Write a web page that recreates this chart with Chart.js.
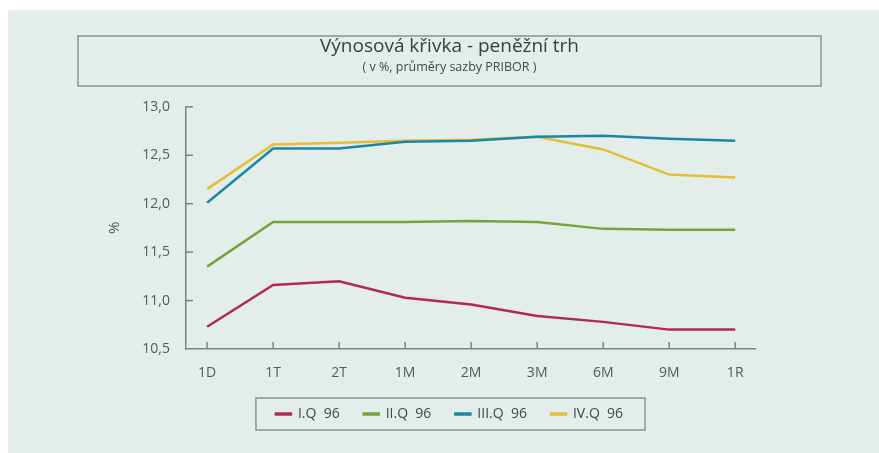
<!DOCTYPE html>
<html>
<head>
<meta charset="utf-8">
<script src="https://cdn.jsdelivr.net/npm/chart.js@4"></script>
<style>
  html, body { margin: 0; padding: 0; background: #fff; }
  #wrap { position: absolute; left: 8px; top: 10px; width: 871px; height: 443px; background: #e3edea; }
</style>
</head>
<body>
<div id="wrap"><canvas id="yield"></canvas></div>
<script>
const categories = ["1D", "1T", "2T", "1M", "2M", "3M", "6M", "9M", "1R"];
const q1 = [10.73, 11.16, 11.20, 11.03, 10.96, 10.84, 10.78, 10.70, 10.70];
const q2 = [11.35, 11.81, 11.81, 11.81, 11.82, 11.81, 11.74, 11.73, 11.73];
const q3 = [12.01, 12.57, 12.57, 12.64, 12.65, 12.69, 12.70, 12.67, 12.65];
const q4 = [12.15, 12.61, 12.63, 12.65, 12.66, 12.69, 12.56, 12.30, 12.27];

const axisColor = "#7d8382";
const textColor = "#555a5a";
const font = "'Open Sans', 'DejaVu Sans', sans-serif";

function pts(arr) {
  return arr.map((y, i) => ({ x: i, y: y }));
}

function ds(label, arr, color) {
  return {
    label: label,
    data: pts(arr),
    borderColor: color,
    backgroundColor: color,
    borderWidth: 2.5,
    pointRadius: 0,
    tension: 0,
    yAxisID: "y",
  };
}

// frames round the title and the legend, inner tick marks
const decor = {
  id: "decor",
  afterDraw(chart) {
    const c = chart.ctx;
    c.save();
    c.strokeStyle = "#8b9190";
    c.lineWidth = 1.5;
    const tb = chart.titleBlock;
    c.strokeRect(70, tb.top + 26, chart.width - 128, 50);

    const hb = chart.legend.legendHitBoxes;
    if (hb.length) {
      const first = hb[0], last = hb[hb.length - 1];
      c.strokeRect(first.left - 20, first.top - 9,
        last.left + last.width - first.left + 42, first.height + 18);
    }

    c.strokeStyle = axisColor;
    c.lineWidth = 1.5;
    const xs = chart.scales.x, ys = chart.scales.y;
    const a = chart.chartArea;
    xs.ticks.forEach((t, i) => {
      const px = xs.getPixelForTick(i);
      c.beginPath(); c.moveTo(px, a.bottom); c.lineTo(px, a.bottom - 7); c.stroke();
    });
    ys.ticks.forEach((t, i) => {
      if (i === 0) return;
      const py = ys.getPixelForTick(i);
      c.beginPath(); c.moveTo(a.left, py); c.lineTo(a.left + 7, py); c.stroke();
    });
    c.restore();
  }
};

new Chart(document.getElementById("yield"), {
  type: "line",
  data: {
    datasets: [
      ds("I.Q  96", q1, "#b3285c"),
      ds("II.Q  96", q2, "#78a23a"),
      ds("III.Q  96", q3, "#1c86a6"),
      ds("IV.Q  96", q4, "#e5bd36"),
    ],
  },
  options: {
    responsive: true,
    maintainAspectRatio: false,
    animation: false,
    layout: { padding: { left: 12, right: 0, top: 0, bottom: 22 } },
    plugins: {
      tooltip: { enabled: false },
      title: {
        display: true,
        text: "Výnosová křivka - peněžní trh",
        color: "#3a3d3d",
        font: { family: font, size: 19, weight: "normal" },
        padding: { top: 25, bottom: 0 },
      },
      subtitle: {
        display: true,
        text: "( v %, průměry sazby PRIBOR )",
        color: "#444848",
        font: { family: font, size: 12.5, weight: "normal" },
        padding: { top: 2, bottom: 32 },
      },
      legend: {
        display: true,
        position: "bottom",
        labels: {
          color: "#444848",
          font: { family: font, size: 14 },
          boxWidth: 15,
          boxHeight: 1,
          padding: 24,
        },
      },
    },
    scales: {
      x: {
        type: "linear",
        min: -0.32,
        max: 8.3,
        afterBuildTicks: (s) => { s.ticks = categories.map((c, i) => ({ value: i })); },
        afterFit: (s) => { s.height = 34; },
        grid: { display: false, drawTicks: false },
        border: { color: axisColor, width: 1.5 },
        ticks: {
          color: textColor,
          font: { family: font, size: 14 },
          padding: 16,
          maxRotation: 0,
          autoSkip: false,
          callback: (v) => categories[v],
        },
      },
      y: {
        position: "left",
        min: 10.5,
        max: 13,
        afterFit: (s) => { s.width = 166; },
        grid: { display: false, drawTicks: false },
        border: { color: axisColor, width: 1.5 },
        title: {
          display: true,
          text: "%",
          color: textColor,
          font: { family: font, size: 15 },
          padding: { top: 86, bottom: 0 },
        },
        ticks: {
          stepSize: 0.5,
          color: textColor,
          font: { family: font, size: 14 },
          padding: 16,
          callback: (v) => v.toFixed(1).replace(".", ","),
        },
      },
      spare: {
        position: "right",
        display: true,
        afterFit: (s) => { s.width = 124; },
        grid: { display: false, drawTicks: false },
        border: { display: false },
        ticks: { display: false },
      },
    },
  },
  plugins: [decor],
});
</script>
</body>
</html>
